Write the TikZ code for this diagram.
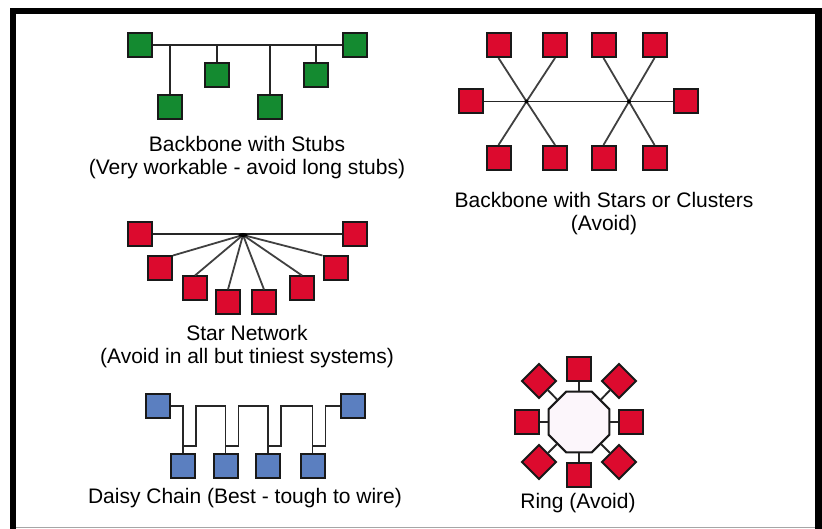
\documentclass[tikz,border=0pt]{standalone}
\usepackage{fontspec}
\setmainfont{Liberation Sans}
\usepackage{tikz}
\usetikzlibrary{shapes.geometric}
\definecolor{nodegreen}{RGB}{20,138,48}
\definecolor{nodered}{RGB}{220,10,46}
\definecolor{nodeblue}{RGB}{91,127,192}
\definecolor{ringfill}{RGB}{252,246,251}
\tikzset{station/.style={draw=black!90, line width=2pt, minimum size=24pt, inner sep=0pt},
    gst/.style={station, fill=nodegreen}, rst/.style={station, fill=nodered},
    bst/.style={station, fill=nodeblue}, dst/.style={rst, rotate=45},
    cable/.style={line width=1.9pt, black!85}, tap/.style={line width=1.8pt, black!75},
    caption/.style={font=\fontsize{21}{23.5}\selectfont, align=center, anchor=north, inner sep=0pt}}

\begin{document}
\begin{tikzpicture}[x=1pt,y=-1pt]
    \useasboundingbox(0,0) rectangle (822,529);
    \draw[line width=6.5pt](13,529)--(13,11)--(818.5,11)--(818.5,529);
    \draw[black!35, line width=1.5pt](16,527.5)--(815,527.5);

    \node[gst](s1) at (140,45){};
    \node[gst](s2) at (170,107){};
    \node[gst](s3) at (217,75){};
    \node[gst](s4) at (270,107){};
    \node[gst](s5) at (316,75){};
    \node[gst](s6) at (355,45){};
    \draw[cable](s1)--(s6);
    \draw[cable](s2)--(s2|-s1);
    \draw[cable](s3)--(s3|-s1);
    \draw[cable](s4)--(s4|-s1);
    \draw[cable](s5)--(s5|-s1);
    \node[caption](stubtxt) at (247,136){Backbone with Stubs\\(Very workable - avoid long stubs)};

    \node[rst](t1) at (498.5,45){};
    \node[rst](t2) at (555,45){};
    \node[rst](t3) at (603.5,45){};
    \node[rst](t4) at (654.5,45){};
    \node[rst](l) at (471,101.5){};
    \node[rst](r) at (686,101.5){};
    \node[rst](b1) at (498.5,158){};
    \node[rst](b2) at (555,158){};
    \node[rst](b3) at (603.5,158){};
    \node[rst](b4) at (654.5,158){};
    \coordinate(h1) at (526.5,101.5);
    \coordinate(h2) at (629,101.5);
    \draw[cable](l)--(r);
    \draw[tap](h1)--(t1.south);
    \draw[tap](h1)--(t2.south);
    \draw[tap](h1)--(b1.north);
    \draw[tap](h1)--(b2.north);
    \draw[tap](h2)--(t3.south);
    \draw[tap](h2)--(t4.south);
    \draw[tap](h2)--(b3.north);
    \draw[tap](h2)--(b4.north);
    \fill(h1) circle (2pt);
    \fill(h2) circle (2pt);
    \node[caption](startxt) at (604,192){Backbone with Stars or Clusters\\(Avoid)};

    \node[rst](a1) at (140,234){};
    \node[rst](a2) at (355,234){};
    \node[rst](n1) at (160,268.5){};
    \node[rst](n2) at (195,288.5){};
    \node[rst](n3) at (228,302.5){};
    \node[rst](n6) at (264,302.5){};
    \node[rst](n7) at (302,288.5){};
    \node[rst](n8) at (335.5,268.5){};
    \coordinate(hub) at (243,235);
    \draw[cable](a1)--(a2);
    \draw[tap](hub)--(n1.north east);
    \draw[tap](hub)--(n2.north);
    \draw[tap](hub)--(n3.north);
    \draw[tap](hub)--(n6.north);
    \draw[tap](hub)--(n7.north);
    \draw[tap](hub)--(n8.north west);
    \fill(hub) ellipse (4.5pt and 2pt);
    \node[caption](nettxt) at (247,325){Star Network\\(Avoid in all but tiniest systems)};

    \node[bst](dl) at (158,406){};
    \node[bst](dr) at (353,406){};
    \node[bst](d1) at (183,466){};
    \node[bst](d2) at (225.5,466){};
    \node[bst](d3) at (268,466){};
    \node[bst](d4) at (312.5,466){};
    \coordinate(fold) at (0,446);
    \draw[cable](dl.east)-|(d1.north);
    \draw[cable](d1|-fold)--++(13,0)--++(0,-40)-|(d2.north);
    \draw[cable](d2|-fold)--++(13,0)--++(0,-40)-|(d3.north);
    \draw[cable](d3|-fold)--++(13,0)--++(0,-40)-|(d4.north);
    \draw[cable](d4|-fold)--++(13,0)--++(0,-40)--(dr.west);
    \node[caption](daisytxt) at (245,488){Daisy Chain (Best - tough to wire)};

    \node[regular polygon, regular polygon sides=8, minimum size=66pt, inner sep=0pt,
        draw=black!90, line width=2pt, fill=ringfill](ring) at (579,422){};
    \node[rst](q1) at (579,369){};
    \node[rst](q2) at (631,422){};
    \node[rst](q3) at (579,475){};
    \node[rst](q4) at (527,422){};
    \node[dst](e1) at (539,381){};
    \node[dst](e2) at (619,381){};
    \node[dst](e3) at (619,462){};
    \node[dst](e4) at (539,462){};
    \draw[cable](q1)--(ring);
    \draw[cable](q2)--(ring);
    \draw[cable](q3)--(ring);
    \draw[cable](q4)--(ring);
    \draw[cable](e1)--(ring);
    \draw[cable](e2)--(ring);
    \draw[cable](e3)--(ring);
    \draw[cable](e4)--(ring);
    \node[caption](ringtxt) at (578,493){Ring (Avoid)};
\end{tikzpicture}
\end{document}
